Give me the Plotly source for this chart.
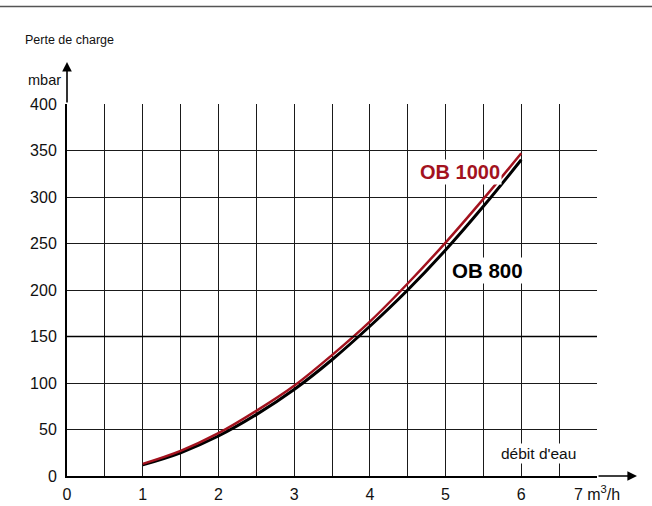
import plotly.graph_objects as go

# Data
debit = [1, 1.5, 2, 2.5, 3, 3.5, 4, 4.5, 5, 5.5, 6]
ob1000 = [13, 27, 46, 70, 97, 130, 166, 207, 251, 298, 347]
ob800 = [12, 25, 43, 66, 93, 125, 161, 200, 243, 290, 340]
x_ticks = [0, 1, 2, 3, 4, 5, 6, 7]
x_ticktext = ["0", "1", "2", "3", "4", "5", "6", "7 m<sup>3</sup>/h"]
y_ticks = [0, 50, 100, 150, 200, 250, 300, 350, 400]

RED = "#a3121e"
FONT = "Liberation Sans, Arial, sans-serif"

W, H = 652, 506
L, R, T, B = 67, 55, 104, 30
pw = W - L - R
ph = H - T - B


def px_x(p):
    return (p - L) / pw


def px_y(p):
    return (H - B - p) / ph


fig = go.Figure()
fig.add_trace(go.Scatter(x=debit, y=ob800, mode="lines", line=dict(color="black", width=3, shape="spline"),
                         showlegend=False, hoverinfo="skip"))
fig.add_trace(go.Scatter(x=debit, y=ob1000, mode="lines", line=dict(color=RED, width=2.5, shape="spline"),
                         showlegend=False, hoverinfo="skip"))

fig.update_layout(
    width=W, height=H, autosize=False,
    margin=dict(l=L, r=R, t=T, b=B, pad=0, autoexpand=False),
    plot_bgcolor="white", paper_bgcolor="white",
    font=dict(family=FONT, size=16, color="#111"),
    showlegend=False,
    xaxis=dict(range=[0, 7], showgrid=True, gridcolor="#1a1a1a", gridwidth=1,
               tickmode="array", tickvals=x_ticks, ticktext=x_ticktext,
               showline=True, linecolor="black", linewidth=2, zeroline=False, ticks="",
               ticklabelstandoff=3, fixedrange=True, automargin=False,
               minor=dict(dtick=0.5, tick0=0, showgrid=True, gridcolor="#1a1a1a", gridwidth=1)),
    yaxis=dict(range=[0, 400], tickvals=y_ticks, showgrid=True, gridcolor="#1a1a1a", gridwidth=1,
               showline=True, linecolor="black", linewidth=2, zeroline=False, ticks="",
               ticklabelstandoff=5, fixedrange=True, automargin=False),
)

# darker 150 line
fig.add_shape(type="line", xref="x", yref="y", x0=0, x1=7, y0=150, y1=150, line=dict(color="black", width=1.6))

# top rule line
fig.add_shape(type="line", xref="paper", yref="paper", x0=px_x(0), x1=px_x(W),
              y0=px_y(6.5), y1=px_y(6.5), line=dict(color="#555", width=1.6))

# axis arrows
fig.add_annotation(xref="paper", yref="paper", x=px_x(637), y=0, ax=-40, ay=0,
                   axref="pixel", ayref="pixel", showarrow=True, arrowhead=2, arrowsize=1.2,
                   arrowwidth=1.6, arrowcolor="black", text="")
fig.add_annotation(xref="paper", yref="paper", x=0, y=px_y(62), ax=0, ay=42,
                   axref="pixel", ayref="pixel", showarrow=True, arrowhead=2, arrowsize=1.2,
                   arrowwidth=1.6, arrowcolor="black", text="")

# texts
fig.add_annotation(xref="paper", yref="paper", x=px_x(23), y=px_y(40), text="Perte de charge",
                   showarrow=False, xanchor="left", yanchor="middle", font=dict(size=12.5, color="#111"))
fig.add_annotation(xref="paper", yref="paper", x=px_x(63), y=px_y(80), text="mbar",
                   showarrow=False, xanchor="right", yanchor="middle", font=dict(size=14.5, color="#111"))
fig.add_annotation(xref="paper", yref="paper", x=px_x(538), y=px_y(453), text="débit d'eau",
                   showarrow=False, xanchor="center", yanchor="middle", font=dict(size=15.5, color="#111"),
                   bgcolor="white")
fig.add_annotation(x=5.19, y=327, text="<b>OB 1000</b>", showarrow=False, xanchor="center", yanchor="middle",
                   font=dict(size=20, color=RED), bgcolor="white")
fig.add_annotation(x=5.55, y=221, text="<b>OB 800</b>", showarrow=False, xanchor="center", yanchor="middle",
                   font=dict(size=20.5, color="black"), bgcolor="white")

fig.write_html("out.html", config={"displayModeBar": False, "responsive": False},
               post_script="document.body.style.margin='0';")
